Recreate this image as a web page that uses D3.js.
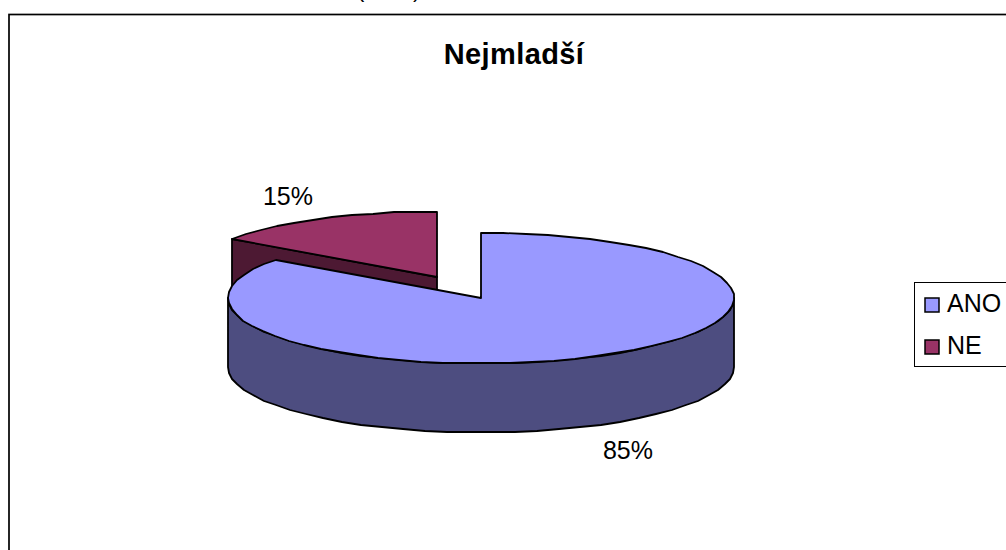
<!DOCTYPE html>
<html><head><meta charset="utf-8">
<script src="https://cdnjs.cloudflare.com/ajax/libs/d3/7.8.5/d3.min.js"></script>
<style>html,body{margin:0;padding:0;background:#fff;overflow:hidden}svg{display:block}text{font-family:"Liberation Sans",Arial,sans-serif;fill:#000}</style>
</head><body><svg id="c" width="1006" height="550"></svg>
<script>
const categories = ["ANO", "NE"];
const values = [85, 15];
const labels = ["85%", "15%"];
const title = "Nejmladší";
const colors = ["#9999ff", "#993366"];
const wallColors = ["#4d4d80", "#4d1933"];

const svg = d3.select("#c");
const W = 1006, H = 550;
const rx = 253, ry = 65.5, depth = 69, cx = 481, cy = 298;
const offset = {x: -44, y: -21};

// remnants of the cropped text above the frame
svg.append("text").attr("x", 357).attr("y", -3).attr("font-size", 22).text("(");
svg.append("text").attr("x", 413).attr("y", -3).attr("font-size", 22).text(")");

// frame
svg.append("rect").attr("x", 9).attr("y", 14.5).attr("width", W + 20).attr("height", H + 20)
  .attr("fill", "#fff").attr("stroke", "#000").attr("stroke-width", 1.7);

const arcs = d3.pie().sort(null).value(d => d)(values);
const sx = d3.scaleLinear().domain([-1, 1]).range([-rx, rx]);
const sy = d3.scaleLinear().domain([-1, 1]).range([-ry, ry]);
const pt = (a, c) => [Math.round(c.x + sx(Math.sin(a))), Math.round(c.y - sy(Math.cos(a)))];
const line = d3.line();
const rim = (a0, a1, c) => {
  const n = Math.max(2, Math.round((a1 - a0) / (Math.PI * 2) * 70));
  return d3.range(n + 1).map(i => pt(a0 + (a1 - a0) * i / n, c));
};
const stroke = s => s.attr("stroke", "#000").attr("stroke-width", 1.8).attr("stroke-linejoin", "round");
const c0 = {x: cx, y: cy};
const c1 = {x: cx + offset.x, y: cy + offset.y};

// NE slice: cut-face wall, then top
const ne = arcs[1];
const p = pt(ne.startAngle, c1), q = [Math.round(c1.x), Math.round(c1.y)];
stroke(svg.append("path")).attr("fill", wallColors[1])
  .attr("d", line([q, p, [p[0], p[1] + depth], [q[0], q[1] + depth]]) + "Z");
stroke(svg.append("path")).attr("fill", colors[1])
  .attr("d", line([q, ...rim(ne.startAngle, ne.endAngle, c1)]) + "Z");

// ANO slice: outer wall (front half of the ellipse), then top
const ano = arcs[0];
const front = rim(Math.PI / 2, Math.min(ano.endAngle, Math.PI * 1.5), c0);
stroke(svg.append("path")).attr("fill", wallColors[0])
  .attr("d", line([...front, ...front.slice().reverse().map(d => [d[0], d[1] + depth])]) + "Z");
stroke(svg.append("path")).attr("fill", colors[0])
  .attr("d", line([[Math.round(c0.x), Math.round(c0.y)], ...rim(ano.startAngle, ano.endAngle, c0)]) + "Z");

// title
svg.append("text").attr("x", 514).attr("y", 64).attr("text-anchor", "middle")
  .attr("font-size", 29).attr("font-weight", "bold").attr("letter-spacing", 0.4).text(title);

// data labels
svg.append("text").attr("x", 628).attr("y", 459).attr("text-anchor", "middle").attr("font-size", 25).text(labels[0]);
svg.append("text").attr("x", 288).attr("y", 205).attr("text-anchor", "middle").attr("font-size", 25).text(labels[1]);

// legend
svg.append("rect").attr("x", 914.5).attr("y", 282.5).attr("width", 100).attr("height", 84)
  .attr("fill", "#fff").attr("stroke", "#000").attr("stroke-width", 1);
const legendY = d3.scaleOrdinal().domain(categories).range([298, 340]);
const leg = svg.selectAll("g.leg").data(categories).join("g").attr("class", "leg")
  .attr("transform", d => `translate(925,${legendY(d)})`);
leg.append("rect").attr("width", 14).attr("height", 14).attr("fill", (d, i) => colors[i])
  .attr("stroke", "#000").attr("stroke-width", 1.5);
leg.append("text").attr("x", 22).attr("y", 14).attr("font-size", 25).text(d => d);
</script></body></html>
